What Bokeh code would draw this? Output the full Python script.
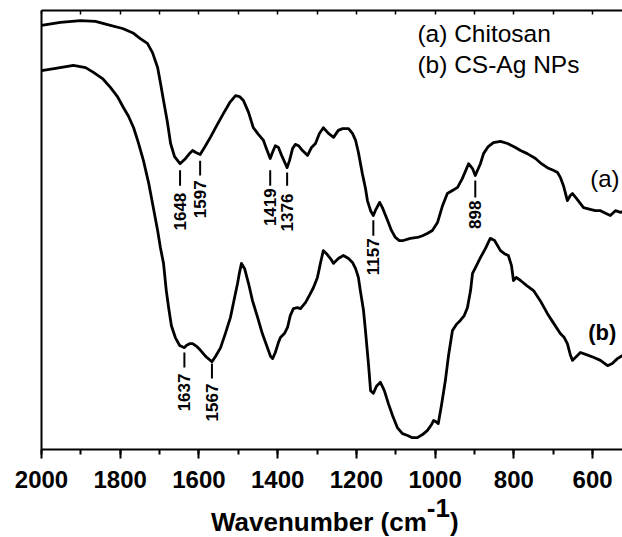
import math
from bokeh.plotting import figure
from bokeh.layouts import column
from bokeh.models import Range1d, LinearAxis, SingleIntervalTicker, FixedTicker, Label, Div
from bokeh.embed import file_html
from bokeh.resources import INLINE
from bokeh.core.properties import value

# ---------------- data ----------------
# (a) Chitosan
wn_a = [2000, 1952, 1901, 1863, 1825, 1794, 1766, 1749, 1731, 1718,
        1705, 1698, 1690, 1680, 1672, 1662, 1648, 1642, 1634, 1624,
        1616, 1609, 1597, 1586, 1571, 1556, 1538, 1522, 1507, 1497,
        1487, 1474, 1462, 1449, 1436, 1429, 1419, 1413, 1406, 1398,
        1390, 1376, 1370, 1362, 1355, 1347, 1337, 1324, 1314, 1304,
        1294, 1284, 1271, 1258, 1246, 1235, 1220, 1210, 1202, 1195,
        1185, 1177, 1172, 1164, 1157, 1152, 1141, 1134, 1121, 1111,
        1101, 1091, 1081, 1063, 1045, 1032, 1020, 1007, 994, 981,
        969, 956, 943, 931, 915, 905, 898, 885, 877, 865,
        852, 834, 816, 796, 783, 766, 745, 730, 715, 700,
        689, 682, 674, 664, 656, 651, 641, 623, 606, 593,
        580, 567, 555, 542, 529, 524]
t_a = [96.6, 97.3, 97.7, 97.5, 96.6, 95.9, 94.8, 93.6, 92.5, 90.4,
       87.0, 83.6, 79.5, 74.5, 69.7, 66.7, 65.1, 65.6, 66.3, 67.4,
       68.1, 67.7, 67.2, 68.8, 71.1, 73.6, 76.5, 79.0, 80.6, 80.4,
       79.5, 76.8, 73.3, 71.8, 70.4, 68.6, 66.3, 67.7, 69.2, 68.8,
       67.0, 64.2, 65.8, 68.6, 69.5, 69.2, 68.1, 67.0, 68.8, 69.7,
       72.0, 73.3, 72.0, 71.1, 72.7, 73.1, 73.1, 72.0, 70.4, 67.7,
       62.9, 59.5, 56.7, 54.4, 53.3, 54.4, 56.3, 55.1, 52.2, 49.9,
       48.3, 47.6, 47.6, 48.1, 48.3, 48.7, 49.2, 49.9, 51.7, 55.6,
       58.3, 59.0, 59.7, 61.7, 65.1, 64.0, 62.4, 65.1, 67.4, 69.0,
       69.9, 70.2, 69.7, 68.8, 68.1, 67.4, 66.3, 65.1, 64.2, 63.6,
       63.1, 62.0, 60.1, 56.7, 57.9, 58.3, 57.2, 55.1, 54.7, 54.4,
       54.4, 53.8, 53.3, 54.4, 54.0, 54.2]

# (b) CS-Ag NPs
wn_b = [2000, 1964, 1919, 1888, 1868, 1845, 1825, 1807, 1792, 1779,
        1766, 1754, 1741, 1728, 1716, 1705, 1698, 1690, 1683, 1677,
        1670, 1660, 1649, 1637, 1632, 1624, 1616, 1606, 1596, 1583,
        1567, 1558, 1545, 1533, 1520, 1510, 1502, 1497, 1492, 1484,
        1474, 1464, 1451, 1439, 1426, 1418, 1413, 1406, 1398, 1393,
        1383, 1375, 1368, 1360, 1350, 1342, 1329, 1317, 1309, 1299,
        1291, 1284, 1274, 1266, 1258, 1246, 1233, 1220, 1210, 1202,
        1195, 1190, 1182, 1177, 1169, 1164, 1157, 1149, 1139, 1129,
        1119, 1108, 1096, 1083, 1070, 1058, 1045, 1032, 1020, 1009,
        1004, 999, 992, 984, 974, 966, 956, 946, 936, 926,
        918, 910, 905, 895, 885, 872, 860, 849, 834, 824,
        814, 806, 801, 794, 783, 768, 750, 733, 715, 700,
        682, 672, 664, 656, 651, 641, 631, 616, 598, 580,
        562, 550, 537, 524]
t_b = [86.3, 86.8, 87.5, 87.0, 85.9, 84.5, 82.5, 80.4, 77.9, 75.9,
       73.3, 69.9, 65.8, 60.8, 55.1, 49.9, 46.0, 42.4, 36.2, 32.3,
       28.2, 25.5, 23.7, 23.2, 23.7, 24.1, 24.1, 23.5, 22.6, 21.2,
       20.0, 21.2, 23.2, 26.4, 30.1, 34.4, 37.8, 40.3, 42.4, 41.2,
       37.8, 33.9, 30.1, 26.4, 23.2, 21.2, 20.7, 22.1, 24.4, 25.5,
       26.4, 27.8, 30.5, 32.1, 32.3, 32.1, 33.5, 35.5, 36.9, 39.2,
       42.6, 45.3, 44.4, 43.5, 42.4, 43.5, 44.2, 43.5, 42.6, 41.2,
       39.2, 36.2, 31.7, 27.1, 19.1, 13.4, 12.8, 14.4, 15.3, 13.4,
       10.5, 7.7, 5.0, 3.6, 3.2, 2.7, 2.7, 3.4, 4.3, 5.7,
       6.6, 6.4, 5.9, 10.0, 15.7, 21.4, 27.1, 28.5, 29.4, 30.5,
       32.3, 36.2, 40.1, 41.9, 43.7, 45.8, 48.1, 47.6, 45.3, 44.6,
       44.2, 41.9, 38.5, 39.2, 38.5, 37.4, 36.2, 33.9, 31.0, 28.9,
       26.4, 25.5, 24.1, 21.4, 20.3, 21.2, 22.1, 21.6, 21.0, 20.3,
       19.1, 19.6, 20.7, 21.4]

# peak annotations
peak_labels = ["1648", "1597", "1419", "1376", "1157", "898", "1637", "1567"]
peak_wn = [1648, 1597, 1419, 1376, 1157, 898, 1637, 1567]
peak_line_top = [63.6, 65.8, 63.6, 63.1, 52.2, 61.3, 22.1, 19.6]
peak_line_bot = [60.1, 62.4, 60.1, 60.1, 48.7, 57.4, 18.7, 16.2]
peak_text_top = [58.5, 61.3, 59.5, 58.3, 48.1, 56.7, 17.3, 15.0]

top_minor_ticks = [2000, 1900, 1800, 1700, 1600, 1500, 1400, 1300,
                   1200, 1100, 1000, 900, 800, 700, 600]

FONT = "Liberation Sans"

# ---------------- figure ----------------
p = figure(width=622, height=505, x_range=Range1d(2000, 524), y_range=Range1d(0, 100),
           x_axis_type=None, y_axis_type=None, output_backend="svg", toolbar_location=None,
           min_border_left=41, min_border_right=0, min_border_top=10, min_border_bottom=56)
p.outline_line_color = None
p.background_fill_color = "white"
p.border_fill_color = "white"

# bottom axis
xb = LinearAxis(ticker=SingleIntervalTicker(interval=200, num_minor_ticks=2))
xb.axis_line_width = 2
xb.axis_line_color = "black"
xb.major_tick_out = 9
xb.major_tick_in = 0
xb.minor_tick_out = 5
xb.minor_tick_in = 0
xb.major_tick_line_width = 2
xb.minor_tick_line_width = 2
xb.major_label_text_font = FONT
xb.major_label_text_font_style = "bold"
xb.major_label_text_font_size = "24px"
xb.major_label_text_color = "black"
xb.major_label_standoff = 12
p.add_layout(xb, "below")

# top axis (inward ticks only)
xt = LinearAxis(ticker=FixedTicker(ticks=[], minor_ticks=top_minor_ticks))
xt.axis_line_width = 2
xt.minor_tick_in = 4
xt.minor_tick_out = 0
xt.major_tick_in = 0
xt.major_tick_out = 0
xt.minor_tick_line_width = 1.5
xt.major_label_standoff = 0
xt.axis_label_standoff = 0
p.add_layout(xt, "above")

# left axis (line only)
yl = LinearAxis(ticker=FixedTicker(ticks=[]))
yl.axis_line_width = 2
yl.major_tick_in = 0
yl.major_tick_out = 0
yl.minor_tick_in = 0
yl.minor_tick_out = 0
yl.major_label_standoff = 0
yl.axis_label_standoff = 0
p.add_layout(yl, "left")

# spectra
p.line(wn_a, t_a, line_width=2.8, line_color="black", line_join="round")
p.line(wn_b, t_b, line_width=2.8, line_color="black", line_join="round")

# peak markers
p.segment(x0=peak_wn, y0=peak_line_top, x1=peak_wn, y1=peak_line_bot,
          line_width=2, line_color="black")
p.text(x=peak_wn, y=peak_text_top, text=peak_labels, angle=math.pi / 2,
       text_align="right", text_baseline="middle", text_font=value(FONT),
       text_font_style="bold", text_font_size="17px", text_color="black")

# legend-like texts
p.add_layout(Label(x=1045, y=94.7, text="(a) Chitosan", text_font=FONT,
                   text_font_size="24.5px", text_color="black", text_baseline="middle"))
p.add_layout(Label(x=1045, y=87.6, text="(b) CS-Ag NPs", text_font=FONT,
                   text_font_size="24.5px", text_color="black", text_baseline="middle"))

# curve labels
p.add_layout(Label(x=606, y=61.7, text="(a)", text_font=FONT, text_font_size="24px",
                   text_color="black", text_baseline="middle"))
p.add_layout(Label(x=611, y=26.6, text="(b)", text_font=FONT, text_font_size="22px",
                   text_font_style="bold", text_color="black", text_baseline="middle"))

# axis title with full-size raised superscript
title_html = (
    '<div style="position:relative;width:622px;height:32px;">'
    '<span style="position:absolute;left:211px;top:4px;line-height:26px;'
    'font-family:\'Liberation Sans\',Arial,sans-serif;font-weight:bold;font-size:26px;'
    'color:black;white-space:nowrap;">Wavenumber (cm'
    '<span style="position:relative;top:-14px;">-1</span>)</span></div>'
)
title = Div(text=title_html, width=622, height=32, margin=(0, 0, 0, 0))

layout = column(p, title, spacing=0)
open("out.html", "w").write(file_html(layout, INLINE))
